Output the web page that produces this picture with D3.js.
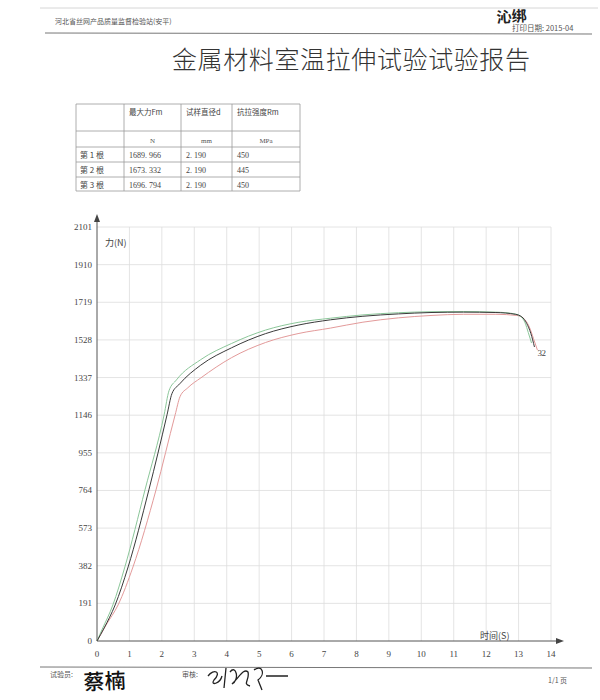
<!DOCTYPE html>
<html>
<head>
<meta charset="utf-8">
<script src="https://cdn.jsdelivr.net/npm/d3@7"></script>
<style>
  body { margin: 0; background: #fff; }
  svg { display: block; }
  .cjk { font-family: "Noto Sans CJK SC", sans-serif; }
  .num { font-family: "Liberation Serif", "DejaVu Serif", serif; }
</style>
</head>
<body>
<script>
// table contents
var table_header = ["", "最大力Fm", "试样直径d", "抗拉强度Rm"];
var table_units = ["", "N", "mm", "MPa"];
var table_rows = [
    ["第 1 根", "1689. 966", "2. 190", "450"],
    ["第 2 根", "1673. 332", "2. 190", "445"],
    ["第 3 根", "1696. 794", "2. 190", "450"]
];

// axis ticks
var y_ticks = [0, 191, 382, 573, 764, 955, 1146, 1337, 1528, 1719, 1910, 2101];
var x_ticks = [0, 1, 2, 3, 4, 5, 6, 7, 8, 9, 10, 11, 12, 13, 14];

// force vs time curves [time s, force N]
var curve_1 = [[0,0],[0.22,66],[0.56,183],[0.96,376],[1.6,767],[2.16,1148],[2.31,1255],[2.55,1305],
    [3.2,1400],[4.15,1488],[5.2,1560],[6.2,1603],[7.2,1630],[8.2,1648],[9.3,1660],[10.3,1667],
    [11.3,1669],[12.3,1667],[12.9,1658],[13.1,1645],[13.25,1612],[13.38,1560],[13.49,1492]];
var curve_2 = [[0,0],[0.28,81],[0.65,183],[1.11,376],[1.82,767],[2.41,1148],[2.56,1240],[2.8,1285],
    [3.2,1335],[4.15,1438],[5.2,1515],[6.2,1560],[7.2,1588],[8.2,1618],[9.3,1640],[10.3,1652],
    [11.3,1658],[12.3,1658],[12.95,1652],[13.15,1638],[13.32,1598],[13.46,1535],[13.58,1477]];
var curve_3 = [[0,0],[0.15,56],[0.49,183],[0.86,376],[1.48,767],[2.07,1148],[2.22,1270],[2.45,1325],
    [3.2,1428],[4.15,1510],[5.2,1578],[6.2,1617],[7.2,1638],[8.2,1655],[9.3,1666],[10.3,1671],
    [11.3,1672],[12.3,1669],[12.85,1661],[13.05,1648],[13.2,1615],[13.3,1565],[13.4,1512]];

var width = 600, height = 700;

var svg = d3.select("body").append("svg")
    .attr("width", width)
    .attr("height", height);

/*
 * PAGE HEADER
 */
svg.append("line").attr("x1", 40).attr("x2", 598).attr("y1", 8).attr("y2", 8)
    .attr("stroke", "#ccc").attr("stroke-width", 0.8);
svg.append("line").attr("x1", 45).attr("x2", 592).attr("y1", 33).attr("y2", 34)
    .attr("stroke", "#777").attr("stroke-width", 1);
svg.append("text").attr("class", "cjk").attr("x", 55).attr("y", 24)
    .attr("font-size", 7).attr("fill", "#555")
    .text("河北省丝网产品质量监督检验站(安平)");
svg.append("text").attr("class", "cjk").attr("x", 512).attr("y", 31)
    .attr("font-size", 7.5).attr("fill", "#555")
    .text("打印日期: 2015-04");
svg.append("text").attr("class", "cjk").attr("x", 497).attr("y", 23)
    .attr("font-size", 15).attr("font-weight", 700).attr("fill", "#222")
    .attr("transform", "rotate(-4,497,23)")
    .text("沁绑");

svg.append("text").attr("class", "cjk").attr("x", 172).attr("y", 69)
    .attr("font-size", 25).attr("font-weight", 300).attr("fill", "#333")
    .attr("textLength", 358)
    .text("金属材料室温拉伸试验试验报告");

/*
 * RESULT TABLE
 */
var col_x = [76, 124, 181, 232, 300];
var row_y = [104, 131, 147, 162, 177, 191];
var tbl = svg.append("g").attr("class", "table");
col_x.forEach(x => {
    tbl.append("line").attr("x1", x).attr("x2", x).attr("y1", row_y[0]).attr("y2", row_y[row_y.length - 1])
        .attr("stroke", "#999").attr("stroke-width", 0.8);
});
row_y.forEach(y => {
    tbl.append("line").attr("x1", col_x[0]).attr("x2", col_x[col_x.length - 1]).attr("y1", y).attr("y2", y)
        .attr("stroke", "#999").attr("stroke-width", 0.8);
});
table_header.forEach((t, i) => {
    tbl.append("text").attr("class", "cjk").attr("x", col_x[i] + 5).attr("y", 115)
        .attr("font-size", 7.5).attr("fill", "#444").text(t);
});
table_units.forEach((t, i) => {
    if (i == 0) return;
    tbl.append("text").attr("class", "num").attr("x", (col_x[i] + col_x[i + 1]) / 2).attr("y", 143)
        .attr("text-anchor", "middle").attr("font-size", 7).attr("fill", "#555").text(t);
});
table_rows.forEach((row, r) => {
    row.forEach((t, i) => {
        tbl.append("text").attr("class", i == 0 ? "cjk" : "num")
            .attr("x", col_x[i] + (i == 0 ? 4 : 5)).attr("y", row_y[r + 2] + 11)
            .attr("font-size", 8).attr("fill", "#444").text(t);
    });
});

/*
 * FORCE - TIME CHART
 */
var x = d3.scaleLinear().domain([0, 14]).range([97, 551]);
var y = d3.scaleLinear().domain([0, 2101]).range([641, 227]);

var grid = svg.append("g").attr("class", "grid");
grid.selectAll(".vgrid").data(x_ticks.slice(1)).enter().append("line")
    .attr("x1", d => x(d)).attr("x2", d => x(d))
    .attr("y1", y(0)).attr("y2", y(2101))
    .attr("stroke", "#ddd").attr("stroke-width", 0.8);
grid.selectAll(".hgrid").data(y_ticks.slice(1)).enter().append("line")
    .attr("x1", x(0)).attr("x2", x(14))
    .attr("y1", d => y(d)).attr("y2", d => y(d))
    .attr("stroke", "#ddd").attr("stroke-width", 0.8);

// axes with arrows
svg.append("line").attr("x1", x(0)).attr("x2", x(0)).attr("y1", y(0)).attr("y2", 220)
    .attr("stroke", "#555").attr("stroke-width", 1);
svg.append("path").attr("d", `M${x(0)},214 L${x(0) - 3},222 L${x(0) + 3},222 Z`).attr("fill", "#444");
svg.append("line").attr("x1", x(0)).attr("x2", 558).attr("y1", y(0)).attr("y2", y(0))
    .attr("stroke", "#555").attr("stroke-width", 1);
svg.append("path").attr("d", `M564,${y(0)} L556,${y(0) - 3} L556,${y(0) + 3} Z`).attr("fill", "#444");

svg.selectAll(".ylab").data(y_ticks).enter().append("text")
    .attr("class", "num").attr("x", 92).attr("y", d => y(d) + 3)
    .attr("text-anchor", "end").attr("font-size", 9).attr("fill", "#444")
    .text(d => d);
svg.selectAll(".xlab").data(x_ticks).enter().append("text")
    .attr("class", "num").attr("x", d => x(d)).attr("y", 657)
    .attr("text-anchor", "middle").attr("font-size", 9).attr("fill", "#444")
    .text(d => d);

svg.append("text").attr("class", "cjk").attr("x", 105).attr("y", 246)
    .attr("font-size", 9).attr("fill", "#444").text("力(N)");
svg.append("text").attr("class", "cjk").attr("x", 480).attr("y", 639)
    .attr("font-size", 9).attr("fill", "#444").text("时间(S)");

var line = d3.line()
    .x(d => x(d[0]))
    .y(d => y(d[1]))
    .curve(d3.curveMonotoneX);

var curves = [
    {data: curve_2, color: "#e39a9a", label: "2"},
    {data: curve_3, color: "#8cc79a", label: "3"},
    {data: curve_1, color: "#3a3a3a", label: null}
];
curves.forEach(c => {
    svg.append("path").datum(c.data)
        .attr("d", line)
        .attr("fill", "none")
        .attr("stroke", c.color)
        .attr("stroke-width", 1);
});

// curve numbers near the break points
svg.append("text").attr("class", "num").attr("x", x(13.4) + 6).attr("y", y(1477) + 6)
    .attr("font-size", 9).attr("fill", "#444").text("3");
svg.append("text").attr("class", "num").attr("x", x(13.58) + 4).attr("y", y(1477) + 6)
    .attr("font-size", 9).attr("fill", "#444").text("2");

/*
 * FOOTER
 */
svg.append("line").attr("x1", 40).attr("x2", 592).attr("y1", 667).attr("y2", 668)
    .attr("stroke", "#777").attr("stroke-width", 1);
svg.append("text").attr("class", "cjk").attr("x", 50).attr("y", 677)
    .attr("font-size", 7).attr("fill", "#555").text("试验员:");
svg.append("text").attr("class", "cjk").attr("x", 84).attr("y", 690)
    .attr("font-size", 21).attr("fill", "#111").attr("font-weight", 500)
    .attr("transform", "rotate(-3,84,690)")
    .text("蔡楠");
svg.append("text").attr("class", "cjk").attr("x", 182).attr("y", 677)
    .attr("font-size", 7).attr("fill", "#555").text("审核:");
svg.append("path")
    .attr("d", "M208,676 C214,668 222,672 214,680 C210,686 220,684 222,676 M226,668 L224,688 M230,672 C236,664 240,680 232,684 C240,676 244,668 248,672 C250,680 242,684 250,686 M254,670 C262,664 266,674 258,680 L262,690 M266,676 L288,676")
    .attr("fill", "none").attr("stroke", "#222").attr("stroke-width", 1.3);
svg.append("text").attr("class", "cjk").attr("x", 548).attr("y", 683)
    .attr("font-size", 7).attr("fill", "#555").text("1/1 页");
</script>
</body>
</html>
